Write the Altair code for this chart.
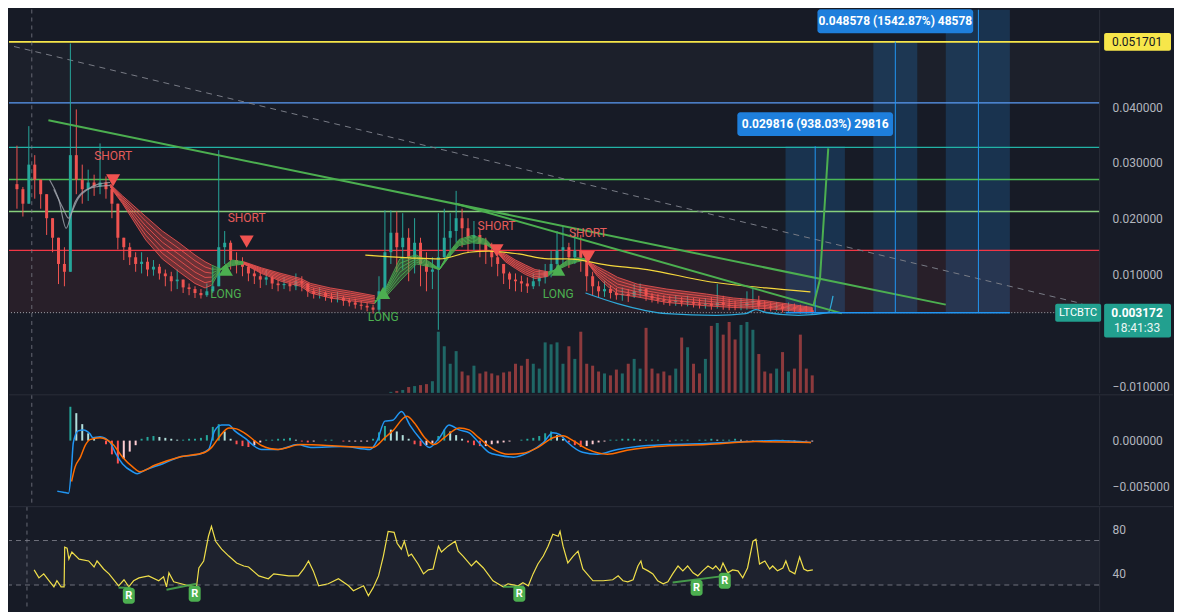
import altair as alt
import pandas as pd

W, H1, H2, H3 = 1092, 384, 110, 104
BG = "#171b26"
UP, DN = "#26a69a", "#ef5350"
FONT = "Roboto"

# ---------------- price candles (bar index -> LTC/BTC) ----------------
first_open = 0.0262
close = [0.0253,0.0227,0.0297,0.0270,0.0244,0.0201,0.0166,0.0119,0.0105,0.0314,
         0.0270,0.0253,0.0265,0.0258,0.0265,0.0253,0.0227,0.0166,0.0149,0.0131,
         0.0119,0.0123,0.0109,0.0114,0.0102,0.0097,0.0088,0.0091,0.0077,0.0074,
         0.0067,0.0063,0.0070,0.0079,0.0149,0.0157,0.0126,0.0119,0.0114,0.0102,
         0.0097,0.0091,0.0095,0.0084,0.0081,0.0083,0.0079,0.0088,0.0084,0.0070,
         0.0065,0.0067,0.0060,0.0057,0.0058,0.0053,0.0050,0.0046,0.0044,0.0041,
         0.0037,0.0070,0.0140,0.0175,0.0149,0.0166,0.0131,0.0157,0.0119,0.0105,
         0.0109,0.0131,0.0166,0.0178,0.0201,0.0183,0.0166,0.0171,0.0157,0.0143,
         0.0131,0.0119,0.0102,0.0091,0.0088,0.0084,0.0079,0.0088,0.0095,0.0105,
         0.0119,0.0143,0.0149,0.0131,0.0143,0.0130,0.0097,0.0079,0.0070,0.0074,
         0.0067,0.0063,0.0065,0.0062,0.0070,0.0074,0.0062,0.0057,0.0055,0.0053,
         0.0051,0.0053,0.0050,0.0051,0.0048,0.0046,0.0048,0.0044,0.0050,0.0046,
         0.0044,0.0043,0.0044,0.0050,0.0053,0.0044,0.0043,0.0041,0.0043,0.0039,
         0.0041,0.0039,0.0037,0.0036,0.003172]
high = [0.0331,0.0257,0.0366,0.0314,0.0270,0.0218,0.0189,0.0157,0.0149,0.0514,
        0.0396,0.0297,0.0288,0.0279,0.0335,0.0276,0.0262,0.0218,0.0166,0.0157,
        0.0140,0.0140,0.0131,0.0126,0.0119,0.0109,0.0105,0.0109,0.0088,0.0084,
        0.0079,0.0074,0.0084,0.0114,0.0323,0.0178,0.0161,0.0140,0.0131,0.0119,
        0.0109,0.0105,0.0109,0.0098,0.0091,0.0095,0.0088,0.0102,0.0097,0.0083,
        0.0076,0.0077,0.0070,0.0067,0.0069,0.0062,0.0058,0.0057,0.0053,0.0050,
        0.0046,0.0097,0.0215,0.0215,0.0213,0.0210,0.0183,0.0201,0.0166,0.0140,
        0.0131,0.0210,0.0218,0.0210,0.0250,0.0218,0.0201,0.0196,0.0183,0.0166,
        0.0157,0.0143,0.0119,0.0105,0.0102,0.0098,0.0095,0.0102,0.0109,0.0119,
        0.0143,0.0178,0.0187,0.0157,0.0175,0.0171,0.0131,0.0105,0.0088,0.0088,
        0.0081,0.0076,0.0077,0.0074,0.0083,0.0084,0.0076,0.0067,0.0065,0.0063,
        0.0062,0.0063,0.0060,0.0062,0.0058,0.0057,0.0058,0.0060,0.0083,0.0062,
        0.0057,0.0053,0.0058,0.0070,0.0074,0.0062,0.0053,0.0050,0.0051,0.0048,
        0.0050,0.0048,0.0046,0.0044,0.0041]
low = [0.0218,0.0204,0.0267,0.0236,0.0218,0.0171,0.0140,0.0083,0.0079,0.0135,
       0.0244,0.0227,0.0232,0.0241,0.0244,0.0236,0.0201,0.0145,0.0126,0.0117,
       0.0105,0.0102,0.0097,0.0098,0.0091,0.0079,0.0070,0.0074,0.0067,0.0063,
       0.0058,0.0057,0.0060,0.0067,0.0114,0.0119,0.0109,0.0102,0.0097,0.0088,
       0.0083,0.0076,0.0081,0.0074,0.0070,0.0074,0.0070,0.0072,0.0070,0.0060,
       0.0057,0.0057,0.0053,0.0050,0.0050,0.0044,0.0043,0.0039,0.0037,0.0034,
       0.0030,0.0032,0.0062,0.0119,0.0105,0.0109,0.0088,0.0102,0.0079,0.0070,
       0.0074,0.0001,0.0126,0.0131,0.0157,0.0149,0.0140,0.0143,0.0131,0.0119,
       0.0114,0.0097,0.0083,0.0074,0.0070,0.0069,0.0067,0.0074,0.0079,0.0084,
       0.0095,0.0112,0.0119,0.0112,0.0119,0.0105,0.0070,0.0063,0.0058,0.0060,
       0.0057,0.0055,0.0053,0.0051,0.0058,0.0060,0.0053,0.0050,0.0048,0.0046,
       0.0044,0.0044,0.0043,0.0043,0.0041,0.0039,0.0039,0.0037,0.0039,0.0037,
       0.0036,0.0036,0.0036,0.0037,0.0039,0.0036,0.0034,0.0034,0.0034,0.0032,
       0.0032,0.0032,0.0030,0.0030,0.0029]

vol_start = 63
volume = [1,2,3,6,7,8,9,12,63,48,
          30,43,22,18,28,20,22,20,18,21,
          22,30,28,35,30,25,52,50,52,30,
          48,35,63,30,28,22,20,18,24,20,
          30,35,25,67,25,20,22,18,25,57,
          47,30,20,35,69,72,60,73,55,70,
          73,65,40,22,20,25,42,22,25,60,
          25,18]

# ---------------- EMA ribbon edges (fast / slow) ----------------
rib_red1_x = [15.7, 17.8, 21.7, 24.5, 27.3, 30.0, 31.7, 32.8]
rib_red1_fast = [0.0257, 0.0227, 0.0162, 0.0128, 0.0105, 0.0084, 0.0076, 0.0081]
rib_red1_slow = [0.0262, 0.0241, 0.0204, 0.0178, 0.0157, 0.0135, 0.0123, 0.0117]
rib_grn1_x = [32.8, 34.5, 36.2, 38.2]
rib_grn1_fast = [0.0081, 0.0112, 0.0126, 0.0123]
rib_grn1_slow = [0.0117, 0.0109, 0.0116, 0.0119]
rib_red2_x = [38.2, 41.2, 44.5, 47.8, 49.5, 52.8, 56.2, 60.3]
rib_red2_fast = [0.0119, 0.0102, 0.0088, 0.0079, 0.0067, 0.0058, 0.0053, 0.0048]
rib_red2_slow = [0.0123, 0.0112, 0.0102, 0.0093, 0.0084, 0.0076, 0.0070, 0.0062]
rib_grn2_x = [60.3, 62.3, 64.5, 67.3, 69.5, 71.2, 72.8, 74.5, 76.7, 79.0, 80.7]
rib_grn2_fast = [0.0048, 0.0079, 0.0128, 0.0135, 0.0123, 0.0110, 0.0140, 0.0163, 0.0170, 0.0163, 0.0145]
rib_grn2_slow = [0.0053, 0.0062, 0.0088, 0.0119, 0.0114, 0.0109, 0.0131, 0.0152, 0.0157, 0.0154, 0.0142]
rib_red3_x = [80.7, 82.3, 84.0, 85.7, 87.3, 89.5]
rib_red3_fast = [0.0142, 0.0123, 0.0111, 0.0100, 0.0093, 0.0097]
rib_red3_slow = [0.0142, 0.0137, 0.0126, 0.0117, 0.0109, 0.0105]
rib_grn3_x = [89.5, 91.2, 92.8, 94.5, 95.8]
rib_grn3_fast = [0.0097, 0.0114, 0.0126, 0.0130, 0.0128]
rib_grn3_slow = [0.0105, 0.0109, 0.0117, 0.0123, 0.0126]
rib_red4_x = [95.8, 97.8, 99.5, 101.2, 104.5, 109.5, 116.2, 120.7, 126.2, 134.0]
rib_red4_fast = [0.0126, 0.0097, 0.0079, 0.0065, 0.0060, 0.0050, 0.0044, 0.0041, 0.0039, 0.0032]
rib_red4_slow = [0.0126, 0.0114, 0.0105, 0.0095, 0.0083, 0.0074, 0.0065, 0.0058, 0.0053, 0.0041]

gray_a_x = [5.5, 7.0, 8.3, 9.2, 10.3, 12.0, 13.7, 15.7]
gray_a_v = [0.0270, 0.0236, 0.0183, 0.0210, 0.0236, 0.0253, 0.0262, 0.0265]
gray_b_x = [6.2, 7.8, 8.7, 9.8, 11.5, 13.7, 15.7]
gray_b_v = [0.0253, 0.0218, 0.0201, 0.0230, 0.0251, 0.0258, 0.0260]

ma_x = [58.7, 66.2, 71.2, 76.2, 79.5, 84.5, 89.5, 92.8, 99.5, 106.2, 116.2, 126.2, 133.7]
ma_v = [0.0135, 0.0130, 0.0128, 0.0140, 0.0142, 0.0137, 0.0128, 0.0128, 0.0117, 0.0109, 0.0088, 0.0076, 0.0069]

arc_x = [95.8, 101.2, 109.5, 117.8, 122.8, 124.5, 126.2, 131.7, 136.7, 137.5]
arc_v = [0.0067, 0.0048, 0.0030, 0.0027, 0.0030, 0.0037, 0.0032, 0.0027, 0.0032, 0.0062]

# ---------------- drawings ----------------
levels = [0.051701, 0.04078, 0.03278, 0.02704, 0.02130, 0.01435]
level_colors = ["#f7e64a", "#5b9cf6", "#22b3a6", "#4cba55", "#86cf7c", "#f23645"]
level_widths = [2, 1.2, 1.3, 1.3, 1.3, 1.2]
last_price = 0.003172

trend_main_x, trend_main_v = [5.3, 156.5], [0.03765, 0.00461]
trend_second_x, trend_second_v = [74.0, 139.0], [0.02270, 0.00304]
trend_dash_x, trend_dash_v = [-0.5, 179.5], [0.05087, 0.00478]
proj_x, proj_v = [134.2, 135.3, 136.7], [0.00443, 0.00913, 0.03261]

box_x1 = [129.5, 144.3, 156.5]
box_x2 = [139.5, 151.7, 167.3]
box_mid = [134.5, 148.0, 162.0]
box_top = [0.032988, 0.05175, 0.0575]
box_label_text = ["0.029816 (938.03%) 29816", "0.048578 (1542.87%) 48578"]
box_label_i = [134.5, 148.0]
box_label_v = [0.03696, 0.05539]

sig_i = [16.2, 38.7, 80.8, 96.2, 35.2, 61.7, 91.2]
sig_v = [0.02687, 0.01591, 0.01435, 0.01313, 0.01087, 0.00670, 0.01087]
sig_kind = ["SHORT", "SHORT", "SHORT", "SHORT", "LONG", "LONG", "LONG"]

# ---------------- MACD ----------------
hist_start = 9
macd_hist = [0.0037,0.0030,0.0018,0.0008,0.0002,0.0000,-0.0004,-0.0015,-0.0025,-0.0020,
             -0.0012,-0.0005,0.0002,0.0004,0.0005,0.0004,0.0003,0.0002,0.0001,0.0001,
             0.0002,0.0002,0.0003,0.0006,0.0015,0.0018,0.0010,0.0002,-0.0004,-0.0006,
             -0.0007,-0.0005,-0.0002,0.0001,0.0001,0.0002,0.0002,0.0003,0.0001,-0.0001,
             -0.0002,-0.0001,0.0000,0.0001,0.0001,0.0000,-0.0001,-0.0001,-0.0001,-0.0001,
             -0.0001,0.0002,0.0009,0.0016,0.0012,0.0010,0.0006,0.0002,-0.0004,-0.0006,
             -0.0005,-0.0003,0.0005,0.0012,0.0010,0.0006,0.0002,-0.0002,-0.0005,-0.0006,
             -0.0006,-0.0004,-0.0003,-0.0002,-0.0001,0.0000,0.0001,0.0002,0.0003,0.0005,
             0.0008,0.0010,0.0006,0.0002,-0.0002,-0.0005,-0.0007,-0.0006,-0.0004,-0.0002,
             -0.0001,0.0001,0.0001,0.0002,0.0002,0.0002,0.0001,0.0001,
             0.0001,0.0001,0.0000,-0.0001,0.0001,0.0001,0.0001,0.0000,0.0001,0.0001,
             0.0002,0.0001,0.0001,0.0001,0.0002,0.0001,-0.0001,-0.0001,0.0000,-0.0001,
             -0.0001,0.0000,0.0001,-0.0001,-0.0001,0.0000,-0.0001,-0.0001]
macd_x = [6.8,7.8,8.7,9.2,9.5,10.3,11.2,12.3,12.8,14.0,15.7,16.7,17.8,19.5,20.3,21.7,24.5,27.3,30.7,32.3,
          33.3,34.5,35.7,36.7,38.3,41.2,44.0,47.3,49.5,55.0,59.5,60.7,62.0,63.3,64.8,66.2,67.8,69.5,71.2,72.8,
          74.5,76.2,77.8,79.5,81.2,83.7,86.2,88.7,90.3,91.5,92.8,95.3,97.8,101.2,104.5,109.5,116.2,122.8,127.8,133.8]
macd_v = [-0.00553,-0.00564,-0.00574,-0.00287,-0.00021,0.00106,0.00117,0.00074,0.00032,0.00043,
          -0.00021,-0.00149,-0.00255,-0.00340,-0.00362,-0.00319,-0.00255,-0.00181,-0.00149,-0.00096,
          0.00106,0.00170,0.00170,0.00106,0.00032,-0.00096,-0.00096,-0.00043,-0.00074,-0.00064,
          -0.00096,0.0,0.00213,0.00223,0.00319,0.00170,0.00032,-0.00074,0.00032,0.00170,
          0.00117,0.00085,-0.00021,-0.00128,-0.00160,-0.00181,-0.00128,-0.00021,0.00085,0.00064,
          -0.00021,-0.00128,-0.00149,-0.00096,-0.00064,-0.00043,-0.00032,-0.00011,0.0,-0.00021]
signal_x = [9.2,9.8,10.7,11.5,12.3,14.0,16.2,17.8,19.5,20.7,23.3,27.3,31.7,32.8,34.0,35.7,37.0,38.3,41.2,44.0,
            47.8,55.0,60.0,62.0,63.3,65.7,67.0,68.7,70.3,72.0,74.5,76.2,77.8,80.3,82.8,85.3,87.8,90.3,92.0,93.7,
            96.2,99.5,102.8,107.8,116.2,124.5,133.8]
signal_v = [-0.00447,-0.00287,-0.00181,-0.00053,0.00011,0.00032,-0.00043,-0.00181,-0.00287,-0.00340,
            -0.00266,-0.00181,-0.00128,-0.00074,0.00032,0.00138,0.00128,0.00085,-0.00053,-0.00096,
            -0.00043,-0.00064,-0.00074,0.00032,0.00106,0.00266,0.00191,0.00032,-0.00043,0.00032,
            0.00138,0.00117,0.00032,-0.00096,-0.00149,-0.00138,-0.00074,0.00032,0.00053,0.0,
            -0.00096,-0.00149,-0.00106,-0.00064,-0.00043,-0.00011,-0.00021]

# ---------------- RSI ----------------
rsi_x = [3.7,4.5,5.3,6.2,7.0,7.5,8.2,8.7,8.8,9.2,9.5,10.0,11.2,12.8,13.7,14.2,15.3,16.2,17.8,18.7,
         19.5,20.3,21.2,22.8,24.5,25.3,25.8,26.2,27.0,29.5,30.8,31.2,32.0,32.8,33.3,34.0,35.0,36.2,37.5,38.7,
         39.5,41.2,42.8,43.7,46.2,47.8,48.7,49.5,50.3,51.2,52.8,54.5,56.2,57.0,58.7,59.5,60.3,61.2,62.0,62.8,
         63.8,64.3,65.0,65.5,66.2,66.7,67.8,68.7,69.5,70.3,71.2,71.7,72.8,74.0,74.5,75.3,76.7,77.5,78.7,80.3,
         82.0,82.8,84.5,85.3,86.2,87.0,87.8,88.7,89.5,90.3,91.2,91.5,92.0,92.8,93.7,94.5,95.3,97.0,98.7,100.3,
         101.2,102.0,102.8,103.7,104.5,105.0,105.3,106.2,107.0,107.8,108.7,109.5,110.3,111.2,112.0,112.8,113.7,114.5,115.3,116.2,
         117.0,117.5,118.2,118.7,119.5,120.3,121.2,122.0,122.8,123.7,124.2,124.8,125.7,126.5,127.0,127.8,128.7,129.2,129.8,130.7,
         131.5,132.2,132.8,133.7]
rsi_v = [43.6,36.4,40.0,33.8,28.4,33.8,28.4,28.4,64.0,63.1,53.3,59.6,53.3,51.6,46.2,51.6,44.4,40.0,29.3,34.7,
         28.4,33.8,36.4,38.2,33.8,37.3,28.4,40.9,32.9,29.3,28.4,45.3,51.6,73.8,82.7,69.3,62.2,56.0,49.8,47.1,
         46.2,38.2,35.6,40.0,38.2,38.2,44.4,51.6,42.7,29.3,31.1,35.6,29.3,24.9,29.3,20.4,27.6,38.2,56.0,78.2,
         77.3,67.5,62.2,69.3,56.0,57.8,48.9,40.0,43.6,44.4,64.9,59.6,64.9,69.3,60.4,56.0,47.1,51.6,45.3,33.8,
         28.4,31.1,29.3,32.0,29.3,40.0,48.9,56.0,64.9,75.6,73.8,78.2,64.9,49.8,56.0,60.4,44.4,33.8,33.8,34.7,
         38.2,33.8,32.9,34.7,47.1,51.6,45.3,42.7,40.0,33.8,31.1,32.9,40.0,47.1,42.7,47.1,40.9,38.2,42.7,47.1,
         44.4,47.1,42.7,49.8,40.9,43.6,42.7,36.4,45.3,69.3,71.1,48.9,51.6,44.4,47.1,42.7,45.3,51.6,42.7,40.0,
         55.1,44.4,42.7,43.6]
div_x1 = [17.8, 25.8, 82.0, 110.3]
div_v1 = [27.6, 25.8, 28.4, 32.3]
div_x2 = [19.8, 30.8, 84.5, 119.0]
div_v2 = [27.6, 31.1, 28.4, 38.2]
badge_x = [19.5, 30.5, 84.7, 114.3, 119.0]
badge_v = [20.4, 22.2, 22.2, 27.6, 33.8]

# ---------------- scales / axes ----------------
XS = alt.Scale(domain=[-0.5, 181.5], nice=False, zero=False)
YP = alt.Scale(domain=[-0.0112, 0.0575], nice=False, zero=False)
YM = alt.Scale(domain=[-0.0070, 0.0050], nice=False, zero=False)
YR = alt.Scale(domain=[7.1, 100.4], nice=False, zero=False)


def axis_right(values, fmt):
    return alt.Axis(orient="right", values=values, format=fmt, title=None, ticks=False,
                    labelPadding=13, grid=False, domainColor="#2a2e39", labelColor="#b2b5be",
                    labelFontSize=12, labelFont=FONT)


AXP = axis_right([-0.01, 0.01, 0.02, 0.03, 0.04], ".6f")
AXM = axis_right([-0.005, 0.0], ".6f")
AXR = axis_right([40, 80], "d")


def xf(f="i"):
    return alt.X(f"{f}:Q", scale=XS, axis=None)


def yp(f):
    return alt.Y(f"{f}:Q", scale=YP, axis=AXP)


def ym(f):
    return alt.Y(f"{f}:Q", scale=YM, axis=AXM)


def yr(f):
    return alt.Y(f"{f}:Q", scale=YR, axis=AXR)


one = pd.DataFrame({"a": [0]})

# ---------------- main panel ----------------
n = len(close)
opens = [first_open] + close[:-1]
cdf = pd.DataFrame({"i": list(range(n)), "open": opens, "close": close, "high": high, "low": low})
cdf["high"] = cdf[["high", "open", "close"]].max(axis=1)
cdf["low"] = cdf[["low", "open", "close"]].min(axis=1)
cdf["col"] = [UP if c >= o else DN for c, o in zip(cdf["close"], cdf["open"])]

vdf = cdf.iloc[vol_start:vol_start + len(volume)].copy()
vdf["vol"] = volume

tint = pd.DataFrame({"lo": [last_price, levels[1]], "hi": [levels[5], levels[0]],
                     "c": ["#ef5350", "#ffffff"], "o": [0.08, 0.025]})
tint_layer = alt.Chart(tint).mark_rect().encode(
    x=alt.value(0), x2=alt.value(W), y=yp("lo"), y2="hi",
    color=alt.Color("c:N", scale=None), opacity=alt.Opacity("o:Q", scale=None))

boxes = pd.DataFrame({"x1": box_x1, "x2": box_x2, "mid": box_mid, "top": box_top,
                      "base": [last_price] * 3})
box_rect = alt.Chart(boxes).mark_rect(color="#2196f3", opacity=0.2, clip=True).encode(
    x=xf("x1"), x2="x2", y=yp("base"), y2="top")

lv = pd.DataFrame({"v": levels, "c": level_colors, "w": level_widths})
lv_layer = alt.Chart(lv).mark_rule().encode(
    y=yp("v"), color=alt.Color("c:N", scale=None),
    strokeWidth=alt.StrokeWidth("w:Q", scale=None))

last_line = alt.Chart(pd.DataFrame({"v": [last_price]})).mark_rule(
    color="#b2b5be", strokeDash=[1, 2], opacity=0.9).encode(y=yp("v"))

dash_line = alt.Chart(pd.DataFrame({"i": trend_dash_x, "v": trend_dash_v})).mark_line(
    color="#787b86", strokeDash=[6, 5], strokeWidth=1, clip=True).encode(x=xf(), y=yp("v"))

vline = alt.Chart(pd.DataFrame({"i": [2.5]})).mark_rule(
    color="#787b86", strokeDash=[4, 4], opacity=0.8).encode(x=xf())

wicks = alt.Chart(cdf).mark_rule(strokeWidth=1).encode(
    x=xf(), y=yp("low"), y2="high", color=alt.Color("col:N", scale=None))
bodies = alt.Chart(cdf).mark_bar(size=3).encode(
    x=xf(), y=yp("open"), y2="close", color=alt.Color("col:N", scale=None))

segs = [("r1", DN, rib_red1_x, rib_red1_fast, rib_red1_slow),
        ("g1", "#4caf50", rib_grn1_x, rib_grn1_fast, rib_grn1_slow),
        ("r2", DN, rib_red2_x, rib_red2_fast, rib_red2_slow),
        ("g2", "#4caf50", rib_grn2_x, rib_grn2_fast, rib_grn2_slow),
        ("r3", DN, rib_red3_x, rib_red3_fast, rib_red3_slow),
        ("g3", "#4caf50", rib_grn3_x, rib_grn3_fast, rib_grn3_slow),
        ("r4", DN, rib_red4_x, rib_red4_fast, rib_red4_slow)]
rows_a, rows_l = [], []
for name, col, xs, fs, ss in segs:
    for x, f, s in zip(xs, fs, ss):
        rows_a.append({"seg": name, "c": col, "i": x, "fast": f, "slow": s})
        for k in (0.0, 0.2, 0.4, 0.6, 0.8, 1.0):
            rows_l.append({"key": f"{name}{k}", "c": col, "i": x, "v": f + (s - f) * k})
rib_area = alt.Chart(pd.DataFrame(rows_a)).mark_area(opacity=0.35).encode(
    x=xf(), y=yp("fast"), y2="slow", color=alt.Color("c:N", scale=None), detail="seg:N")
rib_lines = alt.Chart(pd.DataFrame(rows_l)).mark_line(strokeWidth=1, opacity=0.85).encode(
    x=xf(), y=yp("v"), color=alt.Color("c:N", scale=None), detail="key:N")

gray_df = pd.DataFrame({"i": gray_a_x + gray_b_x, "v": gray_a_v + gray_b_v,
                        "k": ["a"] * len(gray_a_x) + ["b"] * len(gray_b_x)})
gray_lines = alt.Chart(gray_df).mark_line(color="#a3a6af", strokeWidth=1.2, opacity=0.8,
                                          interpolate="monotone").encode(
    x=xf(), y=yp("v"), detail="k:N")

ma_line = alt.Chart(pd.DataFrame({"i": ma_x, "v": ma_v})).mark_line(
    color="#f5d73c", strokeWidth=1.2, interpolate="monotone").encode(x=xf(), y=yp("v"))
arc_line = alt.Chart(pd.DataFrame({"i": arc_x, "v": arc_v})).mark_line(
    color="#2fa8d8", strokeWidth=1.3, interpolate="monotone").encode(x=xf(), y=yp("v"))

trend1 = alt.Chart(pd.DataFrame({"i": trend_main_x, "v": trend_main_v})).mark_line(
    color="#4caf50", strokeWidth=2).encode(x=xf(), y=yp("v"))
trend2 = alt.Chart(pd.DataFrame({"i": trend_second_x, "v": trend_second_v})).mark_line(
    color="#4caf50", strokeWidth=2).encode(x=xf(), y=yp("v"))

box_vline = alt.Chart(boxes).mark_rule(color="#2196f3", strokeWidth=1, clip=True).encode(
    x=xf("mid"), y=yp("base"), y2="top")
box_base = alt.Chart(pd.DataFrame({"a": [box_x1[0]], "b": [box_x2[-1]], "v": [last_price]})).mark_rule(
    color="#2196f3", strokeWidth=1.5).encode(x=xf("a"), x2="b", y=yp("v"))
proj = alt.Chart(pd.DataFrame({"i": proj_x, "v": proj_v})).mark_line(
    color="#4caf50", strokeWidth=2).encode(x=xf(), y=yp("v"))

sig = pd.DataFrame({"i": sig_i, "v": sig_v, "kind": sig_kind})
sig["shape"] = ["triangle-down" if k == "SHORT" else "triangle-up" for k in sig_kind]
sig["c"] = ["#f05350" if k == "SHORT" else "#4caf50" for k in sig_kind]
tri = alt.Chart(sig).mark_point(filled=True, size=200, opacity=1).encode(
    x=xf(), y=yp("v"), shape=alt.Shape("shape:N", scale=None), color=alt.Color("c:N", scale=None))
short_txt = alt.Chart(sig[sig.kind == "SHORT"]).mark_text(
    dy=-24, font=FONT, fontSize=12, color="#e55c5a").encode(x=xf(), y=yp("v"), text="kind:N")
long_txt = alt.Chart(sig[sig.kind == "LONG"]).mark_text(
    dy=24, font=FONT, fontSize=12, color="#4caf50").encode(x=xf(), y=yp("v"), text="kind:N")

lab = pd.DataFrame({"i": box_label_i, "v": box_label_v, "t": box_label_text})
lab_box = alt.Chart(lab).mark_rect(color="#1e7fdc", cornerRadius=3, xOffset=-78, x2Offset=78,
                                   yOffset=-12, y2Offset=12).encode(
    x=xf(), x2="i", y=yp("v"), y2="v")
lab_txt = alt.Chart(lab).mark_text(font=FONT, fontSize=12, fontWeight="bold", color="#ffffff").encode(
    x=xf(), y=yp("v"), text="t:N")

ytag = pd.DataFrame({"v": [levels[0]], "t": ["0.051701"]})
ytag_box = alt.Chart(ytag).mark_rect(color="#f7e64a", cornerRadius=2, yOffset=-9, y2Offset=9).encode(
    x=alt.value(W + 5), x2=alt.value(W + 72), y=yp("v"), y2="v")
ytag_txt = alt.Chart(ytag).mark_text(font=FONT, fontSize=12, color="#131722").encode(
    x=alt.value(W + 38), y=yp("v"), text="t:N")
ptag = pd.DataFrame({"v": [last_price], "t": ["0.003172"], "t2": ["18:41:33"], "s": ["LTCBTC"]})
ptag_box = alt.Chart(ptag).mark_rect(color="#22a08f", cornerRadius=2, yOffset=-9, y2Offset=25).encode(
    x=alt.value(W + 5), x2=alt.value(W + 72), y=yp("v"), y2="v")
ptag_txt = alt.Chart(ptag).mark_text(font=FONT, fontSize=12, fontWeight="bold", color="#ffffff").encode(
    x=alt.value(W + 38), y=yp("v"), text="t:N")
ptag_txt2 = alt.Chart(ptag).mark_text(font=FONT, fontSize=12, dy=15, color="#e8f5f3").encode(
    x=alt.value(W + 38), y=yp("v"), text="t2:N")
sym_box = alt.Chart(ptag).mark_rect(color="#22a08f", cornerRadius=2, yOffset=-9, y2Offset=9).encode(
    x=alt.value(W - 44), x2=alt.value(W + 2), y=yp("v"), y2="v")
sym_txt = alt.Chart(ptag).mark_text(font=FONT, fontSize=11, color="#ffffff").encode(
    x=alt.value(W - 21), y=yp("v"), text="s:N")

vol_layer = alt.Chart(vdf).mark_bar(size=3, opacity=0.55).encode(
    x=xf(), y=alt.Y("vol:Q", scale=alt.Scale(domain=[0, 395]), axis=None),
    color=alt.Color("col:N", scale=None))

price = alt.layer(tint_layer, box_rect, lv_layer, last_line, dash_line, vline, wicks, bodies,
                  rib_area, rib_lines, gray_lines, ma_line, arc_line, trend1, trend2,
                  box_vline, box_base, proj, tri, short_txt, long_txt, lab_box, lab_txt,
                  ytag_box, ytag_txt, ptag_box, ptag_txt, ptag_txt2, sym_box, sym_txt)
main = alt.layer(vol_layer, price).resolve_scale(y="independent").properties(width=W, height=H1)

# ---------------- MACD panel ----------------
hcol, prev = [], 0.0
for h in macd_hist:
    if h >= 0:
        hcol.append("#26a69a" if h >= prev else "#b2dfdb")
    else:
        hcol.append("#ff5252" if h < prev else "#ffcdd2")
    prev = h
hdf = pd.DataFrame({"i": list(range(hist_start, hist_start + len(macd_hist))),
                    "h": macd_hist, "z": [0.0] * len(macd_hist), "c": hcol})
sep = alt.Chart(one).mark_rule(color="#2a2e39", strokeWidth=1).encode(
    x=alt.value(0), x2=alt.value(W + 74), y=alt.value(0))
hist_layer = alt.Chart(hdf).mark_bar(size=2).encode(
    x=xf(), y=ym("h"), y2="z", color=alt.Color("c:N", scale=None))
macd_line = alt.Chart(pd.DataFrame({"i": macd_x, "v": macd_v})).mark_line(
    color="#2196f3", strokeWidth=1.5, interpolate="monotone").encode(x=xf(), y=ym("v"))
sig_line = alt.Chart(pd.DataFrame({"i": signal_x, "v": signal_v})).mark_line(
    color="#ff6d00", strokeWidth=1.5, interpolate="monotone").encode(x=xf(), y=ym("v"))
macd_panel = alt.layer(hist_layer, vline, macd_line, sig_line, sep).properties(width=W, height=H2)

# ---------------- RSI panel ----------------
band = alt.Chart(pd.DataFrame({"lo": [30], "hi": [70]})).mark_rect(color="#787b86", opacity=0.08).encode(
    x=alt.value(0), x2=alt.value(W), y=yr("lo"), y2="hi")
band_lines = alt.Chart(pd.DataFrame({"v": [30, 70]})).mark_rule(
    color="#787b86", strokeDash=[5, 4], opacity=0.9).encode(y=yr("v"))
rsi_line = alt.Chart(pd.DataFrame({"i": rsi_x, "v": rsi_v})).mark_line(
    color="#f0df4a", strokeWidth=1.2).encode(x=xf(), y=yr("v"))
div_df = pd.DataFrame({"i": div_x1 + div_x2, "v": div_v1 + div_v2,
                       "k": list(range(len(div_x1))) * 2})
div_lines = alt.Chart(div_df).mark_line(color="#4caf50", strokeWidth=2, opacity=0.85).encode(
    x=xf(), y=yr("v"), detail="k:N")
bdf = pd.DataFrame({"i": badge_x, "v": badge_v, "t": ["R"] * len(badge_x)})
badge_box = alt.Chart(bdf).mark_rect(color="#4caf50", cornerRadius=3, xOffset=-6, x2Offset=6,
                                     yOffset=-8, y2Offset=8).encode(x=xf(), x2="i", y=yr("v"), y2="v")
badge_txt = alt.Chart(bdf).mark_text(font=FONT, fontSize=11, fontWeight="bold", color="#ffffff").encode(
    x=xf(), y=yr("v"), text="t:N")
rsi_panel = alt.layer(band, band_lines, vline, rsi_line, div_lines, badge_box, badge_txt, sep).properties(
    width=W, height=H3)

chart = alt.vconcat(main, macd_panel, rsi_panel, spacing=0, padding=0, background=BG).configure_view(
    stroke=None).configure_axis(labelFont=FONT)

chart.save("out.html", embed_options={"renderer": "svg", "actions": False})
